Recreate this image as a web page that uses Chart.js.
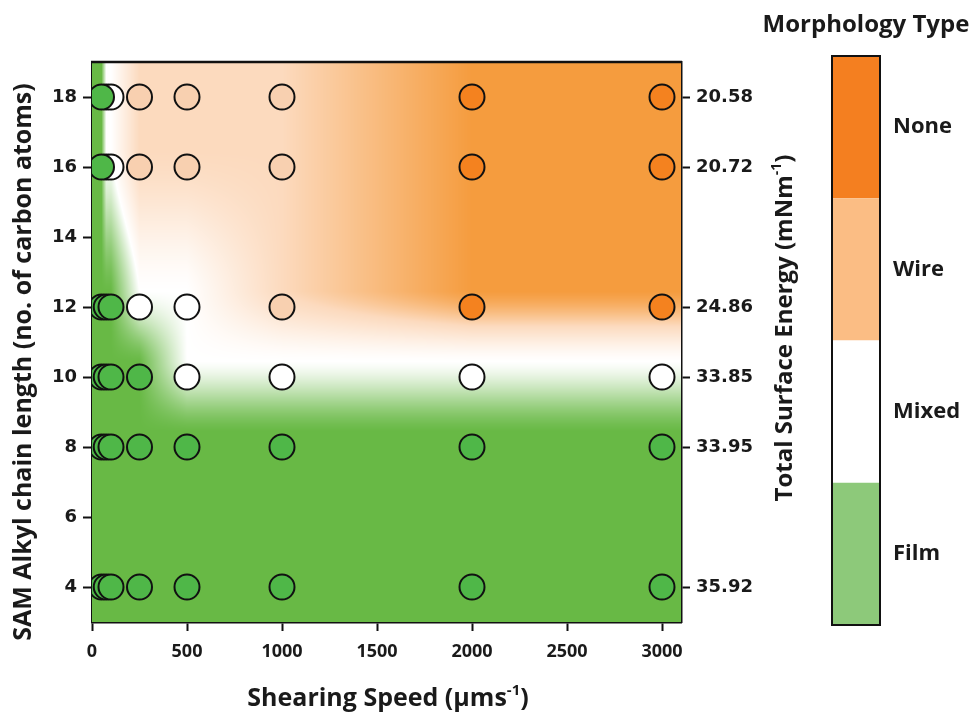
<!doctype html>
<html lang="en">
<head>
<meta charset="utf-8">
<title>Morphology map</title>
<style>
    * { padding: 0; margin: 0; }
    body { background: #fff; }
    #wrap { width: 972px; height: 717px; }
</style>
<script src="https://cdn.jsdelivr.net/npm/chart.js@4"></script>
</head>
<body>
<div id="wrap"><canvas id="morphChart" width="972" height="717"></canvas></div>
<script>
// shearing speeds (µm/s) and SAM chain lengths where films were made
const speeds = [50, 75, 100, 250, 500, 1000, 2000, 3000];
const chainLengths = [4, 8, 10, 12, 16, 18];
const surfaceEnergy = ['35.92', '33.95', '33.85', '24.86', '20.72', '20.58'];
const speedTicks = [0, 500, 1000, 1500, 2000, 2500, 3000];
const chainTicks = [4, 6, 8, 10, 12, 14, 16, 18];
const morphTypes = ['Film', 'Mixed', 'Wire', 'None'];

// morphology (index into morphTypes) for each chain length, one entry per speed
const morph4  = [0, 0, 0, 0, 0, 0, 0, 0];
const morph8  = [0, 0, 0, 0, 0, 0, 0, 0];
const morph10 = [0, 0, 0, 0, 1, 1, 1, 1];
const morph12 = [0, 0, 0, 1, 1, 2, 3, 3];
const morph16 = [0, 1, 1, 2, 2, 2, 3, 3];
const morph18 = [0, 1, 1, 2, 2, 2, 3, 3];
const morphRows = [morph4, morph8, morph10, morph12, morph16, morph18];

const pointColors = ['#4fb748', '#ffffff', '#f8d0b0', '#f4821f'];
const legendColors = ['#8dc97a', '#ffffff', '#fbbd84', '#f47f20'];
const fieldColors = [[104, 185, 69], [255, 255, 255], [252, 218, 190], [245, 156, 62]];

const FONT = "'Open Sans', sans-serif";
const TICK_FONT = "'DejaVu Sans', sans-serif";
const FIELD_SHIFT = 0.45; // background bands sit a little above the sample rows

function clamp(v, lo, hi) { return Math.min(Math.max(v, lo), hi); }
function ease(t) { return 0.5 * t + 0.5 * t * t * (3 - 2 * t); }

// interpolation of the morphology code over the measured grid
function levelAt(xv, yv) {
    const cx = clamp(xv, speeds[0], speeds[speeds.length - 1]);
    const cy = clamp(yv, chainLengths[0], chainLengths[chainLengths.length - 1]);
    let i = 0;
    while (i < speeds.length - 2 && cx > speeds[i + 1]) i++;
    let j = 0;
    while (j < chainLengths.length - 2 && cy > chainLengths[j + 1]) j++;
    const tx = (cx - speeds[i]) / (speeds[i + 1] - speeds[i]);
    const ty = ease((cy - chainLengths[j]) / (chainLengths[j + 1] - chainLengths[j]));
    const a = morphRows[j][i] * (1 - tx) + morphRows[j][i + 1] * tx;
    const b = morphRows[j + 1][i] * (1 - tx) + morphRows[j + 1][i + 1] * tx;
    return a * (1 - ty) + b * ty;
}

function colorAt(level) {
    const k = Math.min(Math.floor(level), fieldColors.length - 2);
    const t = level - k;
    const c0 = fieldColors[k], c1 = fieldColors[k + 1];
    return [0, 1, 2].map(n => Math.round(c0[n] + (c1[n] - c0[n]) * t));
}

const fieldPlugin = {
    id: 'field',
    beforeDatasetsDraw(chart) {
        const {ctx, chartArea: area, scales} = chart;
        const w = Math.round(area.right - area.left);
        const h = Math.round(area.bottom - area.top);
        const off = document.createElement('canvas');
        off.width = w;
        off.height = h;
        const octx = off.getContext('2d');
        const img = octx.createImageData(w, h);
        for (let py = 0; py < h; py++) {
            const yv = scales.y.getValueForPixel(area.top + py + 0.5) - FIELD_SHIFT;
            for (let px = 0; px < w; px++) {
                const xv = scales.x.getValueForPixel(area.left + px + 0.5);
                const c = colorAt(levelAt(xv, yv));
                const p = (py * w + px) * 4;
                img.data[p] = c[0];
                img.data[p + 1] = c[1];
                img.data[p + 2] = c[2];
                img.data[p + 3] = 255;
            }
        }
        octx.putImageData(img, 0, 0);
        ctx.drawImage(off, area.left, area.top);
    },
    afterDatasetsDraw(chart) {
        const {ctx, chartArea: area} = chart;
        ctx.save();
        ctx.strokeStyle = '#111';
        ctx.lineWidth = 2.5;
        ctx.beginPath();
        ctx.moveTo(area.left - 1, area.top);
        ctx.lineTo(area.right + 1, area.top);
        ctx.stroke();
        ctx.restore();
    }
};

// text with a "-1" superscript before the closing bracket
function drawSupText(ctx, x, y, head, sup, tail, size) {
    const supSize = Math.round(size * 0.6);
    ctx.font = 'bold ' + size + 'px ' + FONT;
    const w1 = ctx.measureText(head).width;
    const w3 = ctx.measureText(tail).width;
    ctx.font = 'bold ' + supSize + 'px ' + FONT;
    const w2 = sup ? ctx.measureText(sup).width : 0;
    let sx = x - (w1 + w2 + w3) / 2;
    ctx.textAlign = 'left';
    ctx.textBaseline = 'middle';
    ctx.font = 'bold ' + size + 'px ' + FONT;
    ctx.fillText(head, sx, y);
    sx += w1;
    if (sup) {
        ctx.font = 'bold ' + supSize + 'px ' + FONT;
        ctx.fillText(sup, sx, y - size * 0.35);
        sx += w2;
    }
    ctx.font = 'bold ' + size + 'px ' + FONT;
    ctx.fillText(tail, sx, y);
}

const decorPlugin = {
    id: 'decor',
    afterDraw(chart) {
        const ctx = chart.ctx;
        ctx.save();
        ctx.fillStyle = '#1a1a1a';

        // x axis title
        drawSupText(ctx, 388, 699, 'Shearing Speed (µms', '-1', ')', 25);

        // left axis title
        ctx.save();
        ctx.translate(24, 362);
        ctx.rotate(-Math.PI / 2);
        drawSupText(ctx, 0, 0, 'SAM Alkyl chain length (no. of carbon atoms', '', ')', 25);
        ctx.restore();

        // right axis title
        ctx.save();
        ctx.translate(785, 328);
        ctx.rotate(-Math.PI / 2);
        drawSupText(ctx, 0, 0, 'Total Surface Energy (mNm', '-1', ')', 24);
        ctx.restore();

        // morphology legend bar
        const barX = 832, barW = 48, barTop = 56, barBottom = 625;
        const segH = (barBottom - barTop) / morphTypes.length;
        ctx.textAlign = 'center';
        ctx.textBaseline = 'middle';
        ctx.font = 'bold 24px ' + FONT;
        ctx.fillText('Morphology Type', 866, 25);
        ctx.font = 'bold 22px ' + FONT;
        for (let k = 0; k < morphTypes.length; k++) {
            const idx = morphTypes.length - 1 - k;
            const top = barTop + k * segH;
            ctx.fillStyle = legendColors[idx];
            ctx.fillRect(barX, top, barW, segH);
            ctx.fillStyle = '#1a1a1a';
            ctx.textAlign = 'left';
            ctx.fillText(morphTypes[idx], 893, top + segH / 2);
        }
        ctx.strokeStyle = '#111';
        ctx.lineWidth = 2;
        ctx.strokeRect(barX, barTop, barW, barBottom - barTop);
        ctx.restore();
    }
};

const datasets = morphTypes.map((name, k) => {
    const pts = [];
    chainLengths.forEach((len, j) => {
        speeds.forEach((sp, i) => {
            if (morphRows[j][i] === k) pts.push({x: sp, y: len});
        });
    });
    return {
        label: name,
        data: pts,
        backgroundColor: pointColors[k],
        borderColor: '#111',
        borderWidth: 2,
        pointRadius: 12.5,
        showLine: false
    };
});

const axisGrid = {
    display: true,
    drawOnChartArea: false,
    drawTicks: true,
    tickLength: 9,
    tickWidth: 2,
    tickColor: '#111',
    color: '#111'
};
const axisBorder = {display: true, color: '#111', width: 2.5};
const xTickFont = {family: FONT, size: 18, weight: 'bold'};
const yTickFont = {family: TICK_FONT, size: 18, weight: 'bold'};

const config = {
    type: 'scatter',
    data: {datasets},
    options: {
        responsive: false,
        animation: false,
        events: [],
        layout: {padding: {top: 62, right: 161, bottom: 0, left: 0}},
        plugins: {legend: {display: false}, tooltip: {enabled: false}},
        scales: {
            x: {
                type: 'linear',
                min: 0,
                max: 3100,
                grid: axisGrid,
                border: axisBorder,
                ticks: {font: xTickFont, color: '#1a1a1a', padding: 10, maxRotation: 0, callback: v => String(v)},
                afterBuildTicks: s => { s.ticks = speedTicks.map(v => ({value: v})); },
                afterFit: s => { s.height = 95; }
            },
            y: {
                type: 'linear',
                min: 3,
                max: 19,
                grid: axisGrid,
                border: axisBorder,
                ticks: {font: yTickFont, color: '#1a1a1a', padding: 6, callback: v => String(v)},
                afterBuildTicks: s => { s.ticks = chainTicks.map(v => ({value: v})); },
                afterFit: s => { s.width = 92; }
            },
            y2: {
                type: 'linear',
                position: 'right',
                min: 3,
                max: 19,
                grid: axisGrid,
                border: axisBorder,
                ticks: {
                    font: yTickFont,
                    color: '#1a1a1a',
                    padding: 6,
                    callback: v => surfaceEnergy[chainLengths.indexOf(v)]
                },
                afterBuildTicks: s => { s.ticks = chainLengths.map(v => ({value: v})); },
                afterFit: s => { s.width = 130; }
            }
        }
    },
    plugins: [fieldPlugin, decorPlugin]
};

const chart = new Chart(document.getElementById('morphChart'), config);
</script>
</body>
</html>
